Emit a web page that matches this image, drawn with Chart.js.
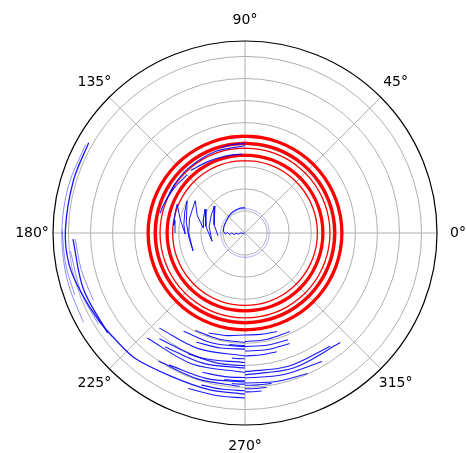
<!DOCTYPE html>
<html>
<head>
<meta charset="utf-8">
<script src="https://cdn.jsdelivr.net/npm/chart.js@4/dist/chart.umd.min.js"></script>
<style>
  html, body { margin: 0; padding: 0; background: #fff; }
  #wrap { width: 466px; height: 453px; position: relative; }
</style>
</head>
<body>
<div id="wrap"><canvas id="c"></canvas></div>
<script>
// ---- axis definitions ----
const angleTicks = [0, 45, 90, 135, 180, 225, 270, 315];
const angleTickLabels = ['0°', '45°', '90°', '135°', '180°', '225°', '270°', '315°'];
const radialGrid = [1, 2, 3, 4, 5, 6, 7, 8];
const rMax = 8.7;

// ---- red series: closed rings (radius values) ----
const redRingsThick = [4.39, 4.07, 3.53];
const redRingsThin = [3.85, 3.28];
const ringSampleAngles = [90, 100, 110, 120, 130, 140, 150, 160, 170, 180, 190, 200, 210, 220, 230, 240, 250, 260, 270,
  280, 290, 300, 310, 320, 330, 340, 350, 360, 370, 380, 390, 400, 410, 420, 430, 440, 450];

// ---- blue series: [theta in degrees, r] ----
const blueInnerCircle = 1.1;
const blueCenterArc = [[90, 1.15], [105, 1.14], [120, 1.1], [135, 1.05], [150, 1.0], [163, 1.0], [175, 0.98]];
const blueCenterWiggle = [[175, 0.98], [183, 0.9], [178, 0.8], [186, 0.7], [180, 0.6], [188, 0.5], [182, 0.4], [190, 0.3], [180, 0.2], [190, 0.1], [180, 0.02]];
const blueZigzag = [[180, 3.17], [170, 3.22], [174, 3.25], [163, 3.3], [157, 3.34], [168, 3.0], [181, 2.71], [172, 2.8], [160, 2.9],
  [151, 3.0], [170, 2.7], [185, 2.55], [199, 2.49], [180, 2.55], [165, 2.6], [147, 2.69], [160, 2.3], [173, 1.91], [160, 2.0],
  [149, 2.11], [170, 1.8], [185, 1.6], [194, 1.54], [170, 1.65], [150, 1.75], [138, 1.83], [165, 1.45], [186, 1.23]];

const blueTopArcs = [
  [[90, 4.05], [98, 4.05], [106, 4.03]],
  [[90, 3.95], [110, 3.93], [130, 3.9], [145, 3.88], [158, 3.87]],
  [[92, 3.58], [105, 3.6], [118, 3.65], [131, 3.75]],
  [[135, 3.72], [147, 3.8], [160, 3.9], [167, 3.95]]
];

const blueLeftArcsMain = [
  [[150, 8.18], [163, 8.13], [179, 8.14], [190, 8.1], [200, 7.9], [211, 7.72], [220, 7.6], [229, 7.55], [243, 7.3], [257, 7.28], [270, 7.3]],
  [[182, 7.8], [199, 7.75], [216, 7.7]]
];
const blueLeftArcsFaint = [
  [[151, 8.26], [165, 8.28], [180, 8.3], [195, 8.33], [209, 8.37]],
  [[179, 8.29], [190, 8.25], [200, 8.21]],
  [[182, 7.7], [193, 7.6], [204, 7.52]],
  [[186, 7.95], [200, 7.9], [212, 7.82]]
];

const blueBottomLeftArcs = [
  [[250, 4.82], [260, 4.72], [270, 4.62]],
  [[243, 4.96], [256, 4.95], [270, 4.96]],
  [[246, 5.42], [258, 5.33], [270, 5.26]],
  [[228, 5.8], [248, 5.65], [270, 5.57]],
  [[231, 6.16], [250, 6.0], [270, 5.87]],
  [[245, 6.05], [258, 6.03], [270, 6.02]],
  [[227, 6.5], [248, 6.4], [270, 6.32]],
  [[253, 6.6], [262, 6.57], [270, 6.55]],
  [[254, 7.17], [262, 7.15], [270, 7.15]],
  [[250, 7.5], [260, 7.48], [270, 7.48]],
  [[262, 5.1], [266, 5.1], [270, 5.1]],
  [[264, 5.7], [267, 5.7], [270, 5.7]],
  [[262, 6.7], [266, 6.7], [270, 6.7]],
  [[265, 6.85], [268, 6.85], [270, 6.85]],
  [[238, 5.25], [254, 5.2], [270, 5.15]],
  [[235, 6.3], [252, 6.2], [270, 6.12]],
  [[240, 6.9], [255, 6.82], [270, 6.75]],
  [[236, 7.0], [252, 6.95], [268, 6.95]]
];

const blueBottomRightArcs = [
  [[270, 4.62], [279, 4.65], [288, 4.69]],
  [[270, 4.92], [282, 4.92], [294.5, 4.91]],
  [[270, 5.14], [281, 5.18], [292, 5.22]],
  [[270, 5.35], [281, 5.38], [292, 5.4]],
  [[270, 5.57], [278, 5.57], [285, 5.57]],
  [[270, 6.28], [288, 6.35], [307, 6.42]],
  [[270, 6.43], [290, 6.5], [311, 6.58]],
  [[270, 6.57], [285, 6.65], [301, 6.79]],
  [[270, 6.8], [282, 6.88], [294, 6.97]],
  [[270, 7.06], [274, 7.06], [278, 7.06]],
  [[270, 6.9], [275, 6.91], [280, 6.92]],
  [[270, 7.2], [273, 7.2], [276, 7.2]]
];

// ---- helpers ----
const RED = '#ff0000';
const BLUE = 'rgba(0,0,255,0.9)';
const BLUE_FAINT = 'rgba(0,0,255,0.45)';
const TENSION = 0.34;

function toXY(pts) {
  return pts.map(([t, r]) => ({ x: r * Math.cos(t * Math.PI / 180), y: r * Math.sin(t * Math.PI / 180) }));
}
function lineDs(pts, color, width, tension, order) {
  return {
    data: toXY(pts), showLine: true, borderColor: color, backgroundColor: color,
    borderWidth: width, pointRadius: 0, pointHoverRadius: 0, tension: tension,
    cubicInterpolationMode: 'default', fill: false, order: order, borderCapStyle: 'butt'
  };
}
function ringPts(r) { return ringSampleAngles.map(t => [t, r]); }

const datasets = [];
redRingsThick.forEach(r => datasets.push(lineDs(ringPts(r), RED, 3.3, TENSION, 5)));
redRingsThin.forEach(r => datasets.push(lineDs(ringPts(r), RED, 1.3, TENSION, 5)));
datasets.push(lineDs(ringPts(blueInnerCircle), 'rgba(0,0,255,0.35)', 0.9, TENSION, 3));
datasets.push(lineDs(blueCenterArc, BLUE, 1.1, TENSION, 2));
datasets.push(lineDs(blueCenterWiggle, BLUE, 1, 0, 2));
datasets.push(lineDs(blueZigzag, BLUE, 1, 0, 2));
blueTopArcs.forEach(a => datasets.push(lineDs(a, BLUE, 1.1, TENSION, 1)));
blueLeftArcsMain.forEach(a => datasets.push(lineDs(a, BLUE, 1.3, TENSION, 2)));
blueLeftArcsFaint.forEach(a => datasets.push(lineDs(a, BLUE_FAINT, 1, TENSION, 2)));
blueBottomLeftArcs.forEach(a => datasets.push(lineDs(a, BLUE, 1.1, TENSION, 2)));
blueBottomRightArcs.forEach(a => datasets.push(lineDs(a, BLUE, 1.1, TENSION, 2)));

const polarFrame = {
  id: 'polarFrame',
  beforeDatasetsDraw(chart) {
    const { ctx, scales: { x, y } } = chart;
    const cx = x.getPixelForValue(0), cy = y.getPixelForValue(0);
    const u = x.getPixelForValue(1) - cx;
    ctx.save();
    ctx.strokeStyle = '#b0b0b0';
    ctx.lineWidth = 1;
    radialGrid.forEach(r => {
      ctx.beginPath(); ctx.arc(cx, cy, r * u, 0, Math.PI * 2); ctx.stroke();
    });
    angleTicks.forEach(t => {
      const a = t * Math.PI / 180;
      ctx.beginPath(); ctx.moveTo(cx, cy);
      ctx.lineTo(cx + rMax * u * Math.cos(a), cy - rMax * u * Math.sin(a)); ctx.stroke();
    });
    ctx.restore();
  },
  afterDatasetsDraw(chart) {
    const { ctx, scales: { x, y } } = chart;
    const cx = x.getPixelForValue(0), cy = y.getPixelForValue(0);
    const u = x.getPixelForValue(1) - cx;
    ctx.save();
    ctx.strokeStyle = '#000';
    ctx.lineWidth = 1.2;
    ctx.beginPath(); ctx.arc(cx, cy, rMax * u, 0, Math.PI * 2); ctx.stroke();
    ctx.fillStyle = '#000';
    ctx.font = '14px "DejaVu Sans"';
    ctx.textAlign = 'center';
    ctx.textBaseline = 'middle';
    const lr = rMax * u + 21;
    angleTicks.forEach((t, i) => {
      const a = t * Math.PI / 180;
      ctx.fillText(angleTickLabels[i], cx + lr * Math.cos(a), cy - lr * Math.sin(a));
    });
    ctx.restore();
  }
};

new Chart(document.getElementById('c'), {
  type: 'line',
  data: { datasets },
  options: {
    responsive: true,
    maintainAspectRatio: false,
    animation: false,
    events: [],
    layout: { padding: { left: 53, right: 29, top: 41, bottom: 28 } },
    scales: {
      x: { type: 'linear', min: -rMax, max: rMax, display: false },
      y: { type: 'linear', min: -rMax, max: rMax, display: false }
    },
    plugins: { legend: { display: false }, tooltip: { enabled: false } }
  },
  plugins: [polarFrame]
});
</script>
</body>
</html>
